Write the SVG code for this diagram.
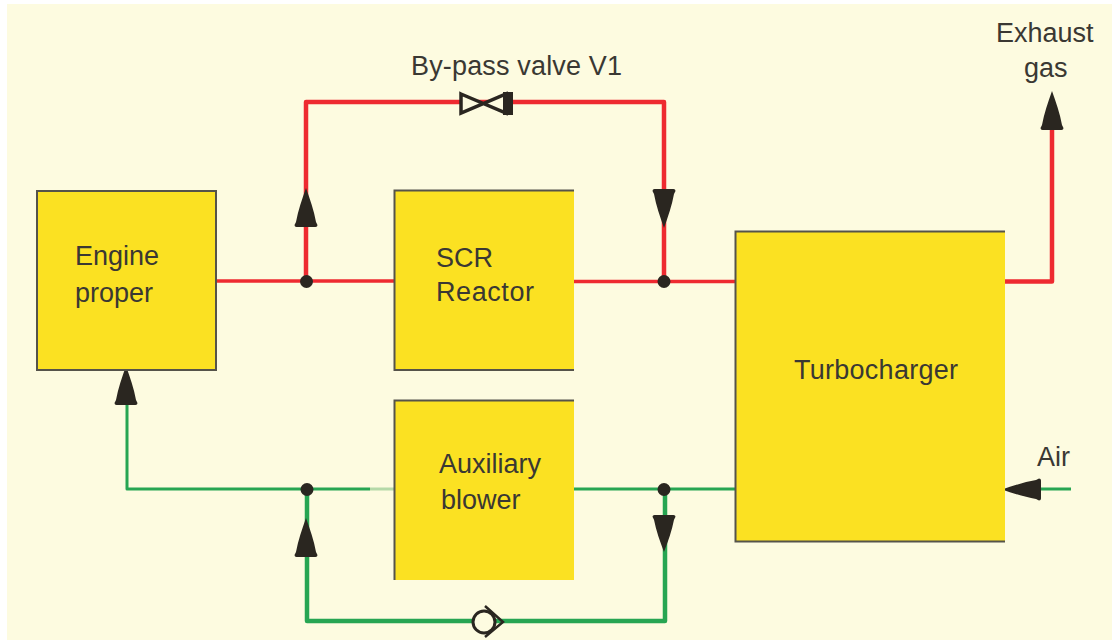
<svg xmlns="http://www.w3.org/2000/svg" width="1112" height="641" viewBox="0 0 1112 641">
<defs>
<path id="head" d="M0 0C4 11 8 23 10 34L11.500 37Q11.500 39 9.500 39H-9.500Q-11.500 39 -11.500 37L-10 34C-8 23 -4 11 0 0Z"/>
</defs>
<style>
.box{fill:#fbe122}
.edge{stroke:#55534a;stroke-width:2;fill:none}
.red{stroke:#ee2a30;stroke-width:4.500;fill:none;stroke-linejoin:round}
.redthin{stroke-width:3.500}
.green{stroke:#27a552;stroke-width:4.500;fill:none;stroke-linejoin:round}
.thin{stroke-width:3}
.mark{fill:#2a2620}
text{font-family:"Liberation Sans",Arial,sans-serif;font-size:27px;fill:#3a3833}
</style>
<rect width="1112" height="641" fill="#fff"/>
<rect x="7" y="4" width="1105" height="636" fill="#fdfbe0"/>
<g id="connectors">
<path class="red redthin" d="M216 281H394"/>
<path class="red redthin" d="M574 281.500H735"/>
<path class="red" d="M306 281V102H664V281"/>
<path class="red" d="M1005 281.500H1052V125"/>
<path class="green thin" d="M127 400V489H370"/>
<path d="M370 489H394" stroke="#b5d9a8" stroke-width="3" fill="none"/>
<path class="green thin" d="M574 489H735"/>
<path class="green" d="M307 489V621H665V489"/>
<path class="green thin" d="M1030 489H1071"/>
<use href="#head" class="mark" transform="translate(306 188)"/>
<use href="#head" class="mark" transform="translate(664 228) rotate(180)"/>
<use href="#head" class="mark" transform="translate(1052 91)"/>
<use href="#head" class="mark" transform="translate(126 366)"/>
<use href="#head" class="mark" transform="translate(306 518)"/>
<use href="#head" class="mark" transform="translate(664 552) scale(1 .95) rotate(180)"/>
<use href="#head" class="mark" transform="translate(1002 489.500) scale(1 .95) rotate(-90)"/>
<circle class="mark" cx="306.500" cy="281.500" r="6.500"/>
<circle class="mark" cx="664" cy="281.500" r="6.500"/>
<circle class="mark" cx="307" cy="489.500" r="6.500"/>
<circle class="mark" cx="664" cy="489.500" r="6.500"/>
</g>
<g id="valve-v1">
<path d="M461 94L506 113V94L461 113Z" fill="#fdfbe0" stroke="#2a2620" stroke-width="3.500"/>
<rect x="503" y="92" width="10" height="23" class="mark"/>
</g>
<g id="check-valve">
<circle cx="484" cy="622" r="11" fill="#fdfbe0" stroke="#2a2620" stroke-width="3"/>
<path d="M485 606L503 622L485 637" fill="none" stroke="#2a2620" stroke-width="2.500"/>
</g>
<g id="engine">
<rect class="box" x="37" y="191" width="179" height="179"/>
<path class="edge" d="M37 370V191H216V370H37Z"/>
<text x="75" y="265">Engine</text>
<text x="75" y="302">proper</text>
</g>
<g id="scr">
<rect class="box" x="394" y="190" width="180" height="180"/>
<path class="edge" d="M574 190.500H394.500V370H574"/>
<text x="436" y="267">SCR</text>
<text x="436" y="301" textLength="98">Reactor</text>
</g>
<g id="blower">
<rect class="box" x="394" y="400" width="180" height="180"/>
<path class="edge" d="M574 400.500H394.500V580"/>
<text x="439" y="473">Auxiliary</text>
<text x="441" y="509">blower</text>
</g>
<g id="turbo">
<rect class="box" x="735" y="231" width="270" height="311"/>
<path class="edge" d="M1005 231.500H735.500V541.500H1005"/>
<text x="794" y="379" textLength="164">Turbocharger</text>
</g>
<g id="labels">
<text x="411" y="75" textLength="211">By-pass valve V1</text>
<text x="996" y="42">Exhaust</text>
<text x="1024" y="77">gas</text>
<text x="1037" y="466">Air</text>
</g>
</svg>
